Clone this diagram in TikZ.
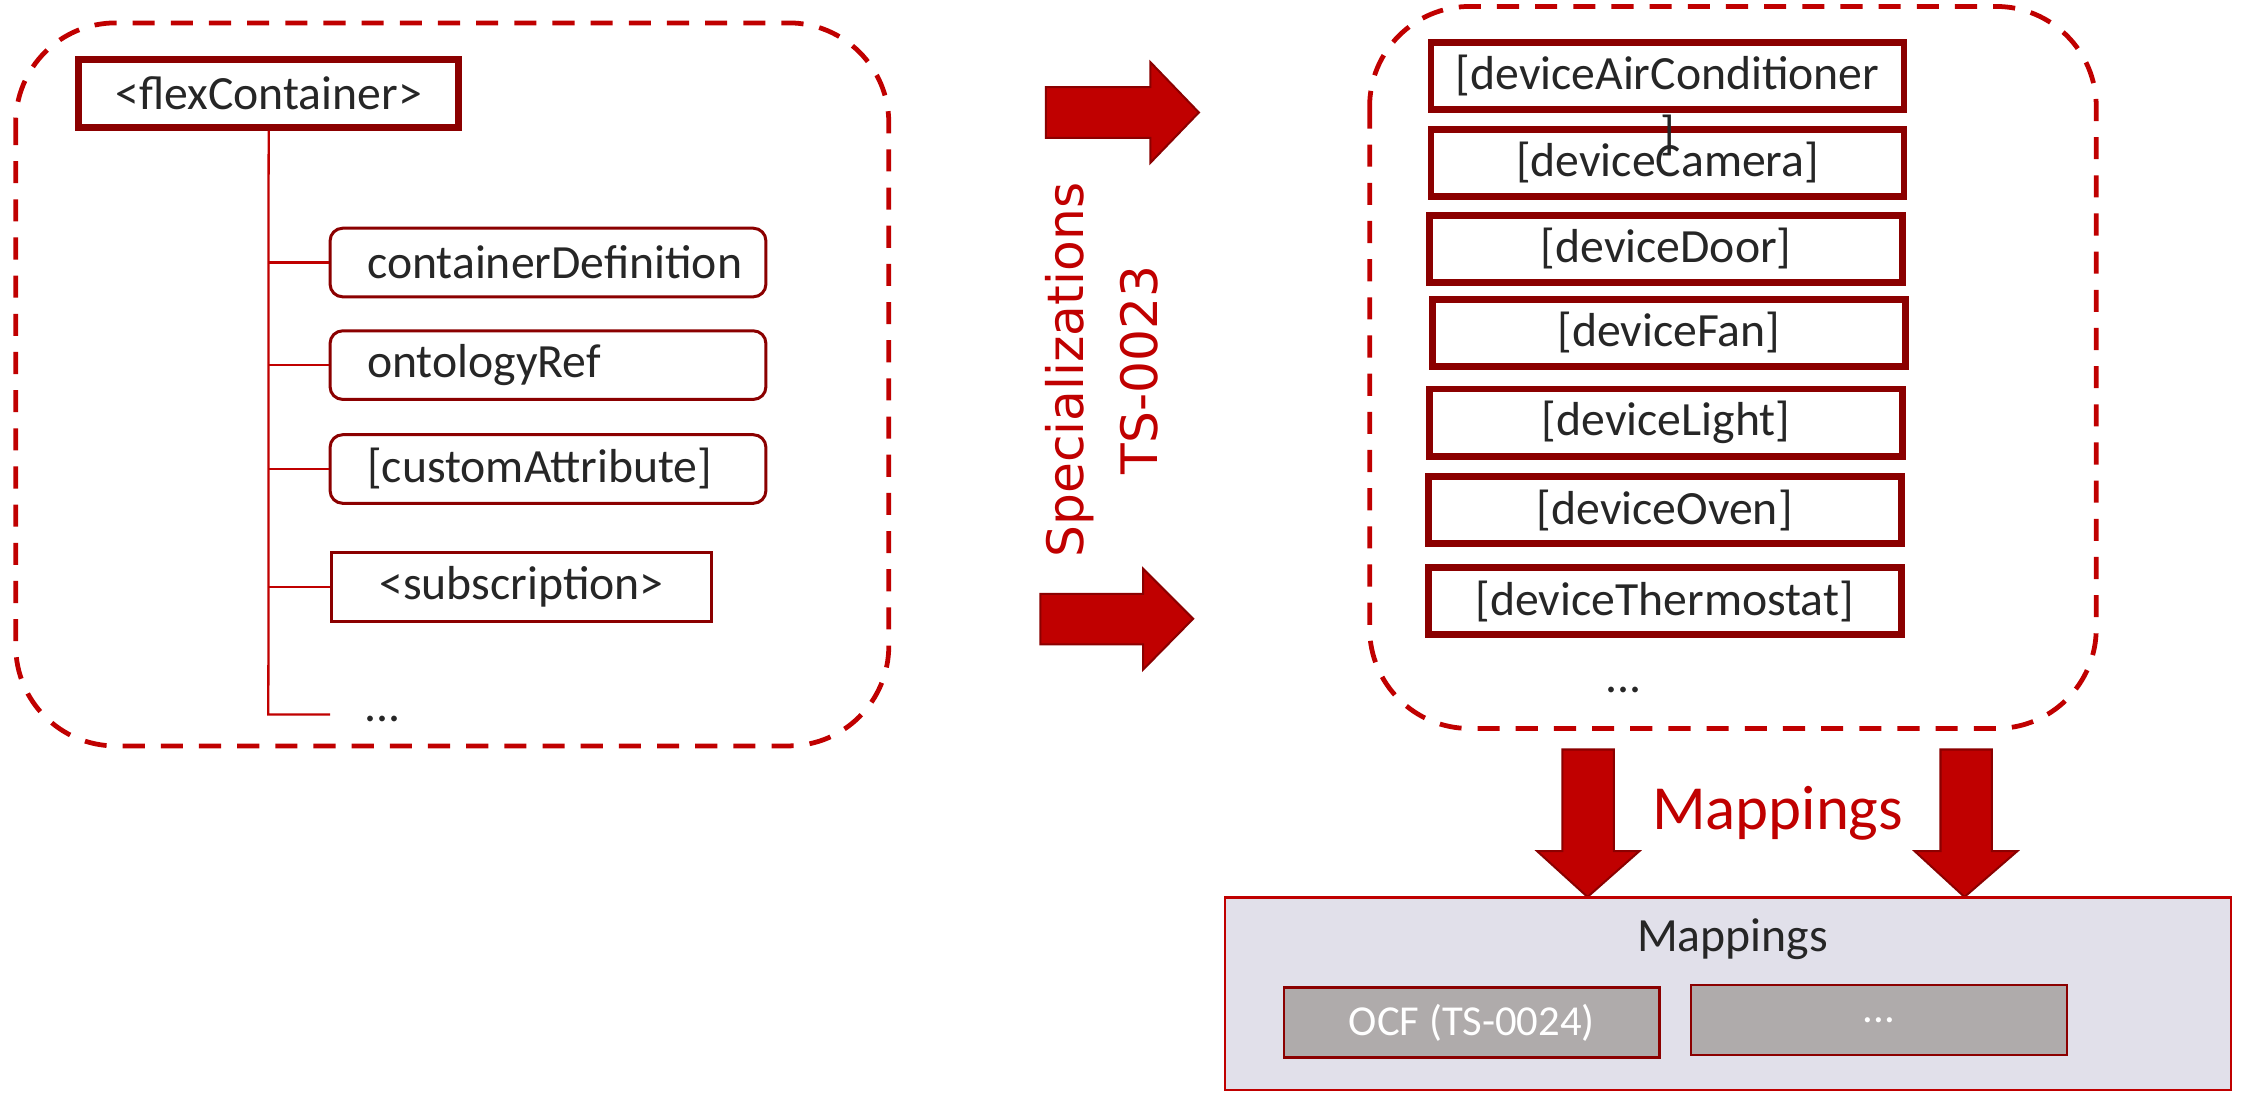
\documentclass[tikz,border=0pt]{standalone}
\usepackage{fontspec}
\setmainfont{Carlito}
\newfontfamily\specfont{DejaVu Sans}
\usetikzlibrary{calc}

\definecolor{ocred}{RGB}{192,0,0}
\definecolor{ocdark}{RGB}{139,0,0}
\definecolor{txtgray}{RGB}{38,38,38}
\definecolor{mapfill}{RGB}{225,224,234}
\definecolor{ocfgray}{RGB}{175,171,171}

\begin{document}
\begin{tikzpicture}[
  groupbox/.style={draw=ocred,line width=0.95pt,dash pattern=on 4.4pt off 3.2pt,rounded corners=0.7cm},
  resbox/.style={draw=ocdark,line width=1.35pt,minimum height=0.47cm,inner sep=0pt,text=txtgray,font=\fontsize{9.5}{11.4}\selectfont},
  attrbox/.style={draw=ocdark,line width=0.6pt,rounded corners=2.5pt,minimum width=3.05cm,minimum height=0.48cm,
    text width=2.79cm,inner xsep=0.13cm,inner ysep=0pt,align=left,text=txtgray,font=\fontsize{9.5}{11.4}\selectfont,
    execute at begin node=\hspace*{0.13cm}},
  tree/.style={draw=ocred,line width=0.45pt},
  blockarrow/.style={fill=ocred,draw=ocdark,line width=0.4pt},
  mapbox/.style={fill=ocfgray,draw=ocdark,line width=0.5pt,minimum width=2.63cm,minimum height=0.49cm,inner sep=0pt,text=white,font=\fontsize{8.5}{10}\selectfont}
]
\useasboundingbox (0,0) rectangle (15.69,-7.665);

%resource tree
\draw[groupbox] (0.11,-0.16) rectangle (6.22,-5.22);
\node[resbox,minimum width=2.66cm,minimum height=0.475cm] (flex) at (1.88,-0.653) {<flexContainer>};
\node[attrbox] (cdef) at (3.835,-1.837) {containerDefinition};
\node[attrbox] (oref) at (3.835,-2.555) {ontologyRef};
\node[attrbox] (cattr) at (3.835,-3.282) {[customAttribute]};
\node[resbox,draw=ocdark,line width=0.6pt,minimum width=2.66cm,minimum height=0.48cm] (subs) at (3.65,-4.107) {<subscription>};
\coordinate (trunkend) at (1.878,-5.0);
\coordinate (moreend) at (2.31,-5.0);
\node[text=txtgray,font=\fontsize{9.5}{11.4}\selectfont] (moreattr) at (2.676,-5.03) {...};
%trunk and branches
\draw[tree] (flex.south) -- (trunkend) -- (moreend);
\draw[tree] (flex.south |- cdef.west) -- (cdef.west);
\draw[tree] (flex.south |- oref.west) -- (oref.west);
\draw[tree] (flex.south |- cattr.west) -- (cattr.west);
\draw[tree] (flex.south |- subs.west) -- (subs.west);

%specialization arrows
\fill[blockarrow] (7.32,-0.61) -- (8.05,-0.61) -- (8.05,-0.434) -- (8.39,-0.787) -- (8.05,-1.14) -- (8.05,-0.964) -- (7.32,-0.964) -- cycle;
\fill[blockarrow] (7.28,-4.156) -- (8.00,-4.156) -- (8.00,-3.98) -- (8.35,-4.33) -- (8.00,-4.686) -- (8.00,-4.51) -- (7.28,-4.51) -- cycle;
\node[text=ocred,font=\specfont\fontsize{10}{14.9}\selectfont,align=center,rotate=90] (spec) at (7.71,-2.59) {Specializations\\TS-0023};

%device specializations
\draw[groupbox] (9.585,-0.045) rectangle (14.67,-5.098);
\node[resbox,minimum width=3.31cm] (ac) at (11.67,-0.53) {[deviceAirConditioner};
\node[resbox,minimum width=3.31cm] (cam) at (11.67,-1.14) {[deviceCamera]};
\node[text=txtgray,font=\fontsize{9.5}{11.4}\selectfont] (acrest) at ([yshift=-0.42cm]ac.center) {]};
\node[resbox,minimum width=3.31cm] (door) at (11.66,-1.742) {[deviceDoor]};
\node[resbox,minimum width=3.31cm] (fan) at (11.68,-2.33) {[deviceFan]};
\node[resbox,minimum width=3.31cm] (light) at (11.66,-2.957) {[deviceLight]};
\node[resbox,minimum width=3.31cm] (oven) at (11.65,-3.57) {[deviceOven]};
\node[resbox,minimum width=3.31cm] (thermo) at (11.65,-4.207) {[deviceThermostat]};
\node[text=txtgray,font=\fontsize{9.5}{11.4}\selectfont] (moredev) at (11.36,-4.83) {...};

%mapping arrows
\fill[blockarrow] (10.934,-5.245) -- (11.294,-5.245) -- (11.294,-5.957) -- (11.472,-5.957) -- (11.11,-6.277) -- (10.758,-5.957) -- (10.934,-5.957) -- cycle;
\fill[blockarrow] (13.58,-5.245) -- (13.94,-5.245) -- (13.94,-5.957) -- (14.117,-5.957) -- (13.748,-6.277) -- (13.40,-5.957) -- (13.58,-5.957) -- cycle;
\node[text=ocred,font=\fontsize{12.5}{15}\selectfont] (maplabel) at (12.44,-5.69) {Mappings};

%mappings
\node[fill=mapfill,draw=ocred,line width=0.45pt,minimum width=7.04cm,minimum height=1.35cm,inner sep=0pt] (maps) at (12.095,-6.955) {};
\node[text=txtgray,font=\fontsize{9.5}{11.4}\selectfont] (maptitle) at (12.125,-6.575) {Mappings};
\node[mapbox] (ocf) at (10.30,-7.157) {OCF (TS-0024)};
\node[mapbox] (moremap) at (13.15,-7.137) {...};
\end{tikzpicture}
\end{document}
